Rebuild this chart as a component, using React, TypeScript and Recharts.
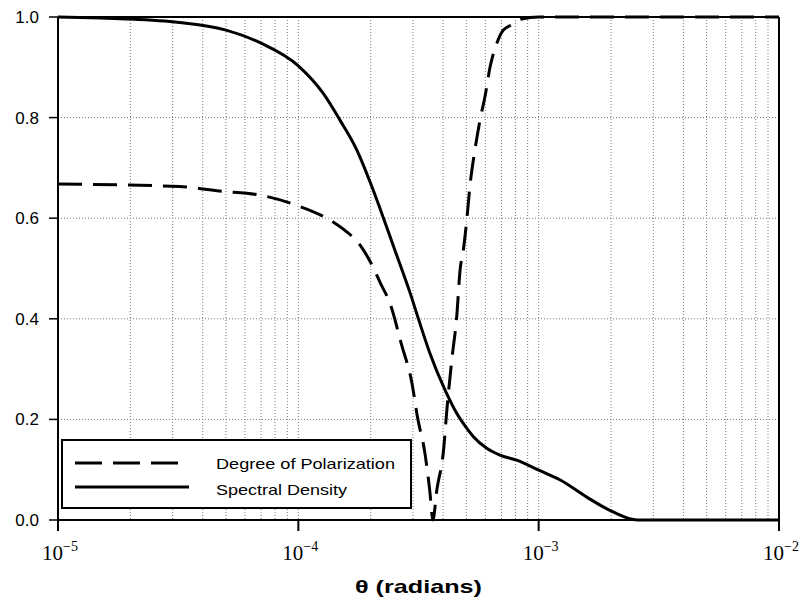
import React from 'react';
import {
  LineChart,
  Line,
  XAxis,
  YAxis,
  CartesianGrid,
  Legend,
  ReferenceLine,
} from 'recharts';

// theta in radians
const spectralTheta = [
  1e-5, 1.5e-5, 2e-5, 3.2e-5, 5e-5, 7e-5, 1e-4, 1.27e-4, 1.49e-4, 1.75e-4, 2e-4,
  2.2e-4, 2.52e-4, 2.92e-4, 3.16e-4, 3.53e-4, 4.08e-4, 4.56e-4, 5.08e-4, 5.34e-4, 6.08e-4,
  6.9e-4, 8.1e-4, 1e-3, 1.23e-3, 1.58e-3, 2.03e-3, 2.57e-3, 5e-3, 1e-2,
];
const spectralValue = [
  1.0, 0.998, 0.996, 0.989, 0.974, 0.948, 0.903, 0.848, 0.795, 0.736, 0.669,
  0.616, 0.537, 0.451, 0.4, 0.331, 0.258, 0.212, 0.179, 0.166, 0.1425,
  0.129, 0.119, 0.099, 0.0795, 0.046, 0.0165, 0.0, 0.0, 0.0,
];

const polTheta = [
  1e-5, 3.2e-5, 4.7e-5, 6.9e-5, 9.8e-5, 1.4e-4, 1.58e-4, 1.81e-4, 2e-4, 2.2e-4, 2.41e-4,
  2.69e-4, 2.97e-4, 3.13e-4, 3.37e-4, 3.52e-4, 3.63e-4, 3.77e-4, 4.02e-4, 4.15e-4, 4.35e-4,
  4.56e-4, 4.71e-4, 4.86e-4, 5.02e-4, 5.19e-4, 5.43e-4, 5.7e-4, 5.98e-4, 6.28e-4, 6.7e-4,
  7.13e-4, 7.85e-4, 8.5e-4, 1e-3, 1e-2,
];
const polValue = [
  0.668, 0.663, 0.654, 0.646, 0.626, 0.592, 0.574, 0.546, 0.512, 0.47, 0.43,
  0.348, 0.272, 0.205, 0.13, 0.06, 0.0, 0.06, 0.139, 0.219, 0.318,
  0.404, 0.497, 0.537, 0.596, 0.669, 0.736, 0.795, 0.842, 0.901, 0.948,
  0.974, 0.986, 0.996, 1.0, 1.0,
];

const xTicks = [
  1e-5, 2e-5, 3e-5, 4e-5, 5e-5, 6e-5, 7e-5, 8e-5, 9e-5,
  1e-4, 2e-4, 3e-4, 4e-4, 5e-4, 6e-4, 7e-4, 8e-4, 9e-4,
  1e-3, 2e-3, 3e-3, 4e-3, 5e-3, 6e-3, 7e-3, 8e-3, 9e-3,
  1e-2,
];
const yTicks = [0, 0.2, 0.4, 0.6, 0.8, 1.0];

const seriesNames = ['Degree of Polarization', 'Spectral Density'];

const spectralData = spectralTheta.map((t, i) => ({ theta: t, value: spectralValue[i] }));
const polData = polTheta.map((t, i) => ({ theta: t, value: polValue[i] }));

const sans = '"Liberation Sans", Arial, sans-serif';
const serif = '"Liberation Serif", "Times New Roman", serif';

function XTick(props: any) {
  const { x, y, payload } = props;
  const lg = Math.log10(payload.value);
  const exp = Math.round(lg);
  if (Math.abs(lg - exp) > 1e-6) return <g />;
  return (
    <g>
      <line x1={x} x2={x} y1={y} y2={y + 11} stroke="#000" strokeWidth={2} />
      <text x={x - 16} y={y + 40} fontFamily={serif} fontSize={21} fill="#000">
        10
        <tspan dy={-9} fontSize={14}>{'\u2212' + -exp}</tspan>
      </text>
    </g>
  );
}

function XLabel(props: any) {
  const vb = props.viewBox;
  return (
    <text
      x={vb.x + vb.width / 2}
      y={vb.y + 73}
      textAnchor="middle"
      fontFamily={sans}
      fontWeight="bold"
      fontSize={19}
      textLength={127}
      lengthAdjust="spacingAndGlyphs"
      fill="#000"
    >
      θ (radians)
    </text>
  );
}

function LegendBox() {
  return (
    <div style={{ width: 347, height: 66, border: '2px solid #000', background: '#fff' }}>
      <svg width={347} height={66} style={{ display: 'block' }}>
        <line x1={12} x2={117} y1={22} y2={22} stroke="#000" strokeWidth={3} strokeDasharray="27 11" />
        <line x1={12} x2={126} y1={46} y2={46} stroke="#000" strokeWidth={3} />
        <text x={153} y={28} fontFamily={sans} fontSize={15} textLength={179} lengthAdjust="spacingAndGlyphs">
          {seriesNames[0]}
        </text>
        <text x={153} y={54} fontFamily={sans} fontSize={15} textLength={131} lengthAdjust="spacingAndGlyphs">
          {seriesNames[1]}
        </text>
      </svg>
    </div>
  );
}

export default function App() {
  return (
    <div style={{ position: 'absolute', left: 0, top: 0, background: '#fff' }}>
      <LineChart width={806} height={609} margin={{ top: 17, right: 27, bottom: 0, left: 0 }}>
        <CartesianGrid stroke="#7a7a7a" strokeDasharray="1 2" />
        <XAxis
          type="number"
          dataKey="theta"
          scale="log"
          domain={[1e-5, 1e-2]}
          allowDataOverflow
          ticks={xTicks}
          interval={0}
          tick={<XTick />}
          tickLine={false}
          tickSize={0}
          tickMargin={0}
          height={89}
          axisLine={{ stroke: '#000', strokeWidth: 2 }}
          label={<XLabel />}
        />
        <YAxis
          type="number"
          domain={[0, 1]}
          ticks={yTicks}
          tickFormatter={(v: number) => v.toFixed(1)}
          width={58}
          tickSize={9}
          tickMargin={10}
          tick={{ fill: '#000', fontSize: 17, fontFamily: sans }}
          tickLine={{ stroke: '#000', strokeWidth: 1.5 }}
          axisLine={{ stroke: '#000', strokeWidth: 2 }}
        />
        <ReferenceLine y={1} stroke="#000" strokeWidth={2} />
        <ReferenceLine x={1e-2} stroke="#000" strokeWidth={2} />
        <Line
          data={polData}
          dataKey="value"
          name={seriesNames[0]}
          type="monotone"
          stroke="#000"
          strokeWidth={3}
          strokeDasharray="24 11"
          dot={false}
          isAnimationActive={false}
        />
        <Line
          data={spectralData}
          dataKey="value"
          name={seriesNames[1]}
          type="monotone"
          stroke="#000"
          strokeWidth={3}
          dot={false}
          isAnimationActive={false}
        />
        <Legend
          layout="horizontal"
          verticalAlign="middle"
          align="center"
          content={<LegendBox />}
          wrapperStyle={{ left: 61, top: 439, width: 351, height: 70 }}
        />
      </LineChart>
    </div>
  );
}
